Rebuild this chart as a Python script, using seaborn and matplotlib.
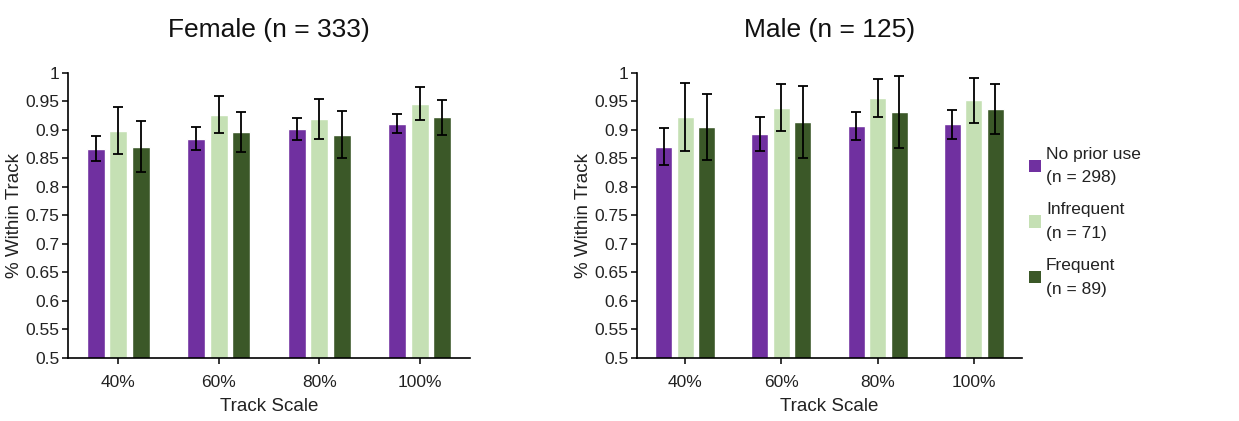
import matplotlib
matplotlib.use("Agg")
import matplotlib.pyplot as plt
from matplotlib.patches import Patch
import numpy as np
import pandas as pd
import seaborn as sns

sns.set_theme(style="white")
plt.rcParams["font.family"] = ["Liberation Sans", "DejaVu Sans"]

scales = ["40%", "60%", "80%", "100%"]
groups = ["No prior use", "Infrequent", "Frequent"]
group_labels = ["No prior use\n(n = 298)", "Infrequent\n(n = 71)", "Frequent\n(n = 89)"]
colors = ["#7030A0", "#C5E0B4", "#3B5828"]

# mean proportion within track, per scale, for each usage group
female_no_prior = [0.867, 0.885, 0.902, 0.911]
female_infrequent = [0.899, 0.927, 0.919, 0.946]
female_frequent = [0.871, 0.896, 0.892, 0.922]
female_no_prior_err = [0.022, 0.020, 0.019, 0.017]
female_infrequent_err = [0.041, 0.033, 0.035, 0.029]
female_frequent_err = [0.044, 0.035, 0.042, 0.030]

male_no_prior = [0.871, 0.893, 0.907, 0.910]
male_infrequent = [0.923, 0.939, 0.956, 0.952]
male_frequent = [0.906, 0.914, 0.932, 0.937]
male_no_prior_err = [0.032, 0.029, 0.024, 0.025]
male_infrequent_err = [0.059, 0.041, 0.033, 0.039]
male_frequent_err = [0.058, 0.064, 0.063, 0.044]

panels = [
    ("Female (n = 333)",
     [female_no_prior, female_infrequent, female_frequent],
     [female_no_prior_err, female_infrequent_err, female_frequent_err]),
    ("Male (n = 125)",
     [male_no_prior, male_infrequent, male_frequent],
     [male_no_prior_err, male_infrequent_err, male_frequent_err]),
]

W, H = 1239, 421
fig = plt.figure(figsize=(W / 100, H / 100), dpi=100)
axes_px = [(68, 470), (637, 1022)]
top_px, bot_px = 73, 358

for (title, means, errs), (x0, x1) in zip(panels, axes_px):
    ax = fig.add_axes([x0 / W, 1 - bot_px / H, (x1 - x0) / W, (bot_px - top_px) / H])
    rows = []
    for g, vals in zip(groups, means):
        for s, v in zip(scales, vals):
            rows.append({"scale": s, "group": g, "value": v})
    df = pd.DataFrame(rows)
    sns.barplot(data=df, x="scale", y="value", hue="group", order=scales,
                hue_order=groups, palette=colors, width=0.67, gap=0.2,
                errorbar=None, legend=False, ax=ax, saturation=1)
    # error bars at bar centres
    for bars, err in zip(ax.containers, errs):
        xs = [p.get_x() + p.get_width() / 2 for p in bars.patches]
        ys = [p.get_height() for p in bars.patches]
        ax.errorbar(xs, ys, yerr=err, fmt="none", ecolor="black",
                    elinewidth=1.3, capsize=3.5, capthick=1.3, zorder=5)
    ax.set_ylim(0.5, 1.0)
    ax.set_xlim(-0.5, 3.5)
    yt = np.arange(0.5, 1.0001, 0.05).round(2)
    ax.set_yticks(yt)
    ax.set_yticklabels([f"{t:g}" for t in yt])
    for side in ["top", "right"]:
        ax.spines[side].set_visible(False)
    for side in ["left", "bottom"]:
        ax.spines[side].set_color("black")
        ax.spines[side].set_linewidth(1.2)
    ax.tick_params(axis="both", which="both", direction="out", length=4,
                   width=1.1, color="black", labelsize=12.5, pad=2,
                   bottom=True, left=True, labelcolor="#222222")
    ax.tick_params(axis="x", pad=8)
    ax.set_xlabel("Track Scale", fontsize=13.5, labelpad=6, color="#222222")
    ax.set_ylabel("% Within Track", fontsize=13.5, labelpad=2, color="#222222")
    ax.set_title(title, fontsize=19, pad=26, color="#111111")
    ax.grid(False)

handles = [Patch(facecolor=c, edgecolor="none") for c in colors]
leg = fig.legend(handles, group_labels, loc="upper left",
                 bbox_to_anchor=(1013 / W, 1 - 131 / H), frameon=False,
                 fontsize=12.5, handlelength=0.7, handleheight=0.7,
                 handletextpad=0.3, labelspacing=1.0)
for t in leg.get_texts():
    t.set_linespacing(1.7)
    t.set_color("#222222")

fig.savefig("out.png", dpi=100, facecolor="white")
